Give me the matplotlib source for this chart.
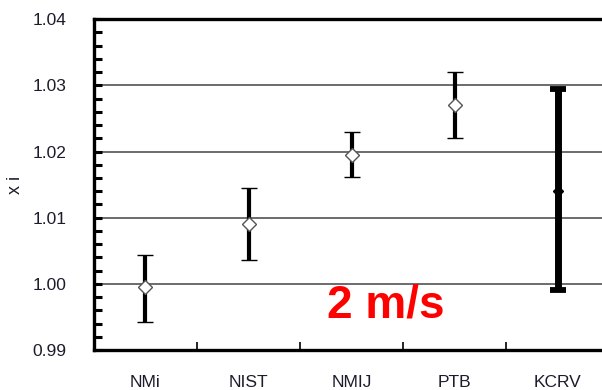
import matplotlib
matplotlib.use("Agg")
import matplotlib.pyplot as plt
import numpy as np
from matplotlib.ticker import MultipleLocator, FixedLocator

labs = ["NMi", "NIST", "NMIJ", "PTB", "KCRV"]
centre = [0.99955, 1.0091, 1.0195, 1.0270, 1.0140]
upper = [1.0044, 1.0145, 1.0230, 1.0320, 1.0294]
lower = [0.9943, 1.0036, 1.0162, 1.0220, 0.9991]

plt.rcParams["font.family"] = ["Liberation Sans", "DejaVu Sans"]

fig = plt.figure(figsize=(6.02, 3.90), dpi=100)
ax = fig.add_axes([0.156, 0.1026, 0.856, 0.848])

x = np.arange(len(labs))
c = np.array(centre)
lo = c - np.array(lower)
hi = np.array(upper) - c

# participants
ax.errorbar(x[:4], c[:4], yerr=[lo[:4], hi[:4]], fmt="D", ms=7, mfc="white",
            mec="#555555", mew=1.0, ecolor="black", elinewidth=3.0,
            capsize=6, capthick=3.8, zorder=3)
# reference value
ax.errorbar(x[4:], c[4:], yerr=[lo[4:], hi[4:]], fmt="D", ms=5, mfc="black",
            mec="black", ecolor="black", elinewidth=5.0,
            capsize=6, capthick=4.2, zorder=3)

ax.set_xlim(-0.5, len(labs) - 0.5)
ax.set_ylim(0.99, 1.04)
ax.yaxis.set_major_locator(MultipleLocator(0.01))
ax.yaxis.set_minor_locator(MultipleLocator(0.002))
ax.set_yticklabels([f"{v:.2f}" for v in ax.get_yticks()])
ax.xaxis.set_major_locator(FixedLocator(x))
ax.set_xticklabels(labs)
ax.xaxis.set_minor_locator(FixedLocator(x[:-1] + 0.5))

for v in [1.00, 1.01, 1.02, 1.03]:
    ax.axhline(v, color="#444444", lw=1.1, zorder=1)

ax.tick_params(axis="y", which="both", direction="in", length=6, width=2.2,
               pad=20, labelsize=12.5, labelcolor="#1c1c2c")
ax.tick_params(axis="x", which="major", length=0, pad=18, labelsize=12.5,
               labelcolor="#1c1c2c")
ax.tick_params(axis="x", which="minor", direction="in", length=6, width=1.2)

for s in ax.spines.values():
    s.set_linewidth(2.4)

ax.set_ylabel("x i", fontsize=13, color="#1c1c2c", labelpad=6)

ax.text(2.33, 0.9967, "2 m/s", color="#ff0000", fontsize=33, fontweight="bold",
        ha="center", va="center")

fig.savefig("out.png", dpi=100)
